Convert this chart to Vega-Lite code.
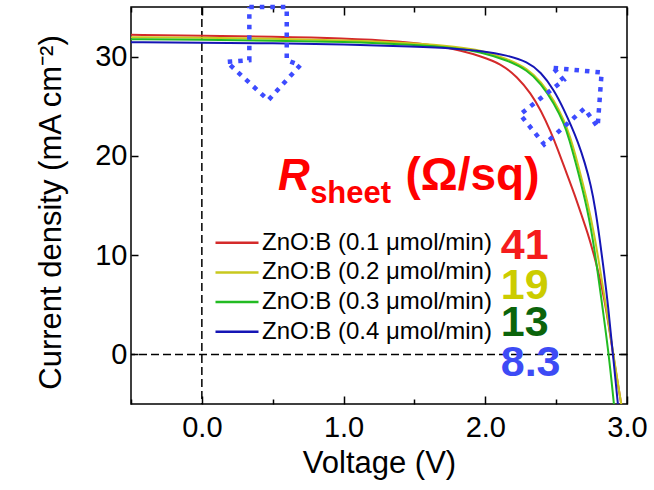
{
  "$schema": "https://vega.github.io/schema/vega-lite/v6.json",
  "autosize": {"type": "none"},
  "width": 496,
  "height": 397,
  "padding": {"left": 131, "top": 7, "right": 27, "bottom": 86},
  "background": "white",
  "config": {
    "view": {"stroke": "#000", "strokeWidth": 1.5},
    "font": "Liberation Sans",
    "axis": {"labelFont": "Liberation Sans", "titleFont": "Liberation Sans", "labelColor": "#000", "titleColor": "#000", "titleFontWeight": "normal", "grid": false, "domain": false, "tickColor": "#000", "tickWidth": 1.5, "labelFlush": false},
    "legend": {"labelFont": "Liberation Sans"}
  },
  "datasets": {
    "curves": [
      {"series": "ZnO:B (0.1 μmol/min)", "V": -0.5, "J": 32.2},
      {"series": "ZnO:B (0.1 μmol/min)", "V": 0, "J": 32.1},
      {"series": "ZnO:B (0.1 μmol/min)", "V": 0.5, "J": 32.0},
      {"series": "ZnO:B (0.1 μmol/min)", "V": 1.0, "J": 31.85},
      {"series": "ZnO:B (0.1 μmol/min)", "V": 1.4, "J": 31.55},
      {"series": "ZnO:B (0.1 μmol/min)", "V": 1.684, "J": 31.05},
      {"series": "ZnO:B (0.1 μmol/min)", "V": 1.826, "J": 30.6},
      {"series": "ZnO:B (0.1 μmol/min)", "V": 1.967, "J": 30.05},
      {"series": "ZnO:B (0.1 μmol/min)", "V": 2.109, "J": 29.3},
      {"series": "ZnO:B (0.1 μmol/min)", "V": 2.227, "J": 27.95},
      {"series": "ZnO:B (0.1 μmol/min)", "V": 2.321, "J": 26.3},
      {"series": "ZnO:B (0.1 μmol/min)", "V": 2.392, "J": 24.6},
      {"series": "ZnO:B (0.1 μmol/min)", "V": 2.463, "J": 22.4},
      {"series": "ZnO:B (0.1 μmol/min)", "V": 2.51, "J": 20.7},
      {"series": "ZnO:B (0.1 μmol/min)", "V": 2.57, "J": 18.4},
      {"series": "ZnO:B (0.1 μmol/min)", "V": 2.628, "J": 16.2},
      {"series": "ZnO:B (0.1 μmol/min)", "V": 2.68, "J": 14.0},
      {"series": "ZnO:B (0.1 μmol/min)", "V": 2.723, "J": 12.2},
      {"series": "ZnO:B (0.1 μmol/min)", "V": 2.758, "J": 10.5},
      {"series": "ZnO:B (0.1 μmol/min)", "V": 2.8, "J": 8.2},
      {"series": "ZnO:B (0.1 μmol/min)", "V": 2.84, "J": 5.6},
      {"series": "ZnO:B (0.1 μmol/min)", "V": 2.87, "J": 3.0},
      {"series": "ZnO:B (0.1 μmol/min)", "V": 2.9, "J": 0.2},
      {"series": "ZnO:B (0.1 μmol/min)", "V": 2.93, "J": -2.5},
      {"series": "ZnO:B (0.1 μmol/min)", "V": 2.965, "J": -5.5},
      {"series": "ZnO:B (0.2 μmol/min)", "V": -0.5, "J": 31.95},
      {"series": "ZnO:B (0.2 μmol/min)", "V": 0, "J": 31.9},
      {"series": "ZnO:B (0.2 μmol/min)", "V": 0.5, "J": 31.8},
      {"series": "ZnO:B (0.2 μmol/min)", "V": 1.0, "J": 31.65},
      {"series": "ZnO:B (0.2 μmol/min)", "V": 1.5, "J": 31.35},
      {"series": "ZnO:B (0.2 μmol/min)", "V": 1.8, "J": 31.0},
      {"series": "ZnO:B (0.2 μmol/min)", "V": 1.967, "J": 30.65},
      {"series": "ZnO:B (0.2 μmol/min)", "V": 2.156, "J": 29.8},
      {"series": "ZnO:B (0.2 μmol/min)", "V": 2.298, "J": 28.8},
      {"series": "ZnO:B (0.2 μmol/min)", "V": 2.392, "J": 27.5},
      {"series": "ZnO:B (0.2 μmol/min)", "V": 2.486, "J": 25.6},
      {"series": "ZnO:B (0.2 μmol/min)", "V": 2.557, "J": 23.55},
      {"series": "ZnO:B (0.2 μmol/min)", "V": 2.6, "J": 21.9},
      {"series": "ZnO:B (0.2 μmol/min)", "V": 2.652, "J": 19.3},
      {"series": "ZnO:B (0.2 μmol/min)", "V": 2.723, "J": 15.3},
      {"series": "ZnO:B (0.2 μmol/min)", "V": 2.769, "J": 12.1},
      {"series": "ZnO:B (0.2 μmol/min)", "V": 2.817, "J": 8.0},
      {"series": "ZnO:B (0.2 μmol/min)", "V": 2.85, "J": 5.0},
      {"series": "ZnO:B (0.2 μmol/min)", "V": 2.878, "J": 2.4},
      {"series": "ZnO:B (0.2 μmol/min)", "V": 2.905, "J": -0.1},
      {"series": "ZnO:B (0.2 μmol/min)", "V": 2.958, "J": -4.9},
      {"series": "ZnO:B (0.2 μmol/min)", "V": 2.965, "J": -5.5},
      {"series": "ZnO:B (0.3 μmol/min)", "V": -0.5, "J": 31.75},
      {"series": "ZnO:B (0.3 μmol/min)", "V": 0, "J": 31.7},
      {"series": "ZnO:B (0.3 μmol/min)", "V": 0.5, "J": 31.6},
      {"series": "ZnO:B (0.3 μmol/min)", "V": 1.0, "J": 31.5},
      {"series": "ZnO:B (0.3 μmol/min)", "V": 1.5, "J": 31.2},
      {"series": "ZnO:B (0.3 μmol/min)", "V": 1.8, "J": 30.85},
      {"series": "ZnO:B (0.3 μmol/min)", "V": 1.967, "J": 30.47},
      {"series": "ZnO:B (0.3 μmol/min)", "V": 2.156, "J": 29.64},
      {"series": "ZnO:B (0.3 μmol/min)", "V": 2.298, "J": 28.63},
      {"series": "ZnO:B (0.3 μmol/min)", "V": 2.392, "J": 27.3},
      {"series": "ZnO:B (0.3 μmol/min)", "V": 2.486, "J": 25.3},
      {"series": "ZnO:B (0.3 μmol/min)", "V": 2.557, "J": 23.2},
      {"series": "ZnO:B (0.3 μmol/min)", "V": 2.59, "J": 21.8},
      {"series": "ZnO:B (0.3 μmol/min)", "V": 2.652, "J": 18.6},
      {"series": "ZnO:B (0.3 μmol/min)", "V": 2.723, "J": 14.5},
      {"series": "ZnO:B (0.3 μmol/min)", "V": 2.769, "J": 10.8},
      {"series": "ZnO:B (0.3 μmol/min)", "V": 2.817, "J": 5.8},
      {"series": "ZnO:B (0.3 μmol/min)", "V": 2.871, "J": 0.1},
      {"series": "ZnO:B (0.3 μmol/min)", "V": 2.907, "J": -4.9},
      {"series": "ZnO:B (0.3 μmol/min)", "V": 2.912, "J": -5.6},
      {"series": "ZnO:B (0.4 μmol/min)", "V": -0.5, "J": 31.45},
      {"series": "ZnO:B (0.4 μmol/min)", "V": 0, "J": 31.4},
      {"series": "ZnO:B (0.4 μmol/min)", "V": 0.5, "J": 31.35},
      {"series": "ZnO:B (0.4 μmol/min)", "V": 1.0, "J": 31.25},
      {"series": "ZnO:B (0.4 μmol/min)", "V": 1.5, "J": 31.0},
      {"series": "ZnO:B (0.4 μmol/min)", "V": 1.8, "J": 30.8},
      {"series": "ZnO:B (0.4 μmol/min)", "V": 1.967, "J": 30.57},
      {"series": "ZnO:B (0.4 μmol/min)", "V": 2.156, "J": 30.14},
      {"series": "ZnO:B (0.4 μmol/min)", "V": 2.298, "J": 29.47},
      {"series": "ZnO:B (0.4 μmol/min)", "V": 2.392, "J": 28.46},
      {"series": "ZnO:B (0.4 μmol/min)", "V": 2.486, "J": 26.62},
      {"series": "ZnO:B (0.4 μmol/min)", "V": 2.557, "J": 24.6},
      {"series": "ZnO:B (0.4 μmol/min)", "V": 2.604, "J": 23.1},
      {"series": "ZnO:B (0.4 μmol/min)", "V": 2.654, "J": 21.4},
      {"series": "ZnO:B (0.4 μmol/min)", "V": 2.703, "J": 19.3},
      {"series": "ZnO:B (0.4 μmol/min)", "V": 2.746, "J": 17.0},
      {"series": "ZnO:B (0.4 μmol/min)", "V": 2.776, "J": 14.7},
      {"series": "ZnO:B (0.4 μmol/min)", "V": 2.807, "J": 11.7},
      {"series": "ZnO:B (0.4 μmol/min)", "V": 2.838, "J": 8.3},
      {"series": "ZnO:B (0.4 μmol/min)", "V": 2.866, "J": 5.0},
      {"series": "ZnO:B (0.4 μmol/min)", "V": 2.9, "J": 0.1},
      {"series": "ZnO:B (0.4 μmol/min)", "V": 2.935, "J": -4.9},
      {"series": "ZnO:B (0.4 μmol/min)", "V": 2.94, "J": -5.6}
    ],
    "arrows": [
      {"arrow": "down", "ord": 0, "V": 0.335, "J": 35.0},
      {"arrow": "down", "ord": 1, "V": 0.599, "J": 35.0},
      {"arrow": "down", "ord": 2, "V": 0.599, "J": 29.64},
      {"arrow": "down", "ord": 3, "V": 0.694, "J": 29.13},
      {"arrow": "down", "ord": 4, "V": 0.469, "J": 25.61},
      {"arrow": "down", "ord": 5, "V": 0.175, "J": 29.47},
      {"arrow": "down", "ord": 6, "V": 0.335, "J": 29.64},
      {"arrow": "down", "ord": 7, "V": 0.335, "J": 35.0},
      {"arrow": "diag", "ord": 0, "V": 2.482, "J": 28.86},
      {"arrow": "diag", "ord": 1, "V": 2.821, "J": 28.4},
      {"arrow": "diag", "ord": 2, "V": 2.793, "J": 22.92},
      {"arrow": "diag", "ord": 3, "V": 2.699, "J": 24.77},
      {"arrow": "diag", "ord": 4, "V": 2.416, "J": 21.15},
      {"arrow": "diag", "ord": 5, "V": 2.246, "J": 24.17},
      {"arrow": "diag", "ord": 6, "V": 2.553, "J": 27.62},
      {"arrow": "diag", "ord": 7, "V": 2.482, "J": 28.86}
    ],
    "numbers": [
      {"label": "41", "V": 2.109, "J": 9.6},
      {"label": "19", "V": 2.109, "J": 5.57},
      {"label": "13", "V": 2.109, "J": 1.84},
      {"label": "8.3", "V": 2.109, "J": -2.19}
    ]
  },
  "resolve": {"axis": {"x": "independent", "y": "independent"}, "scale": {"color": "independent"}},
  "layer": [
    {
      "data": {"values": [{"V": 0}]},
      "mark": {"type": "rule", "color": "#000", "strokeWidth": 1.5, "strokeDash": [8, 4]},
      "encoding": {
        "x": {"field": "V", "type": "quantitative", "scale": {"domain": [-0.5, 3], "nice": false, "zero": false}, "axis": null}
      }
    },
    {
      "data": {"values": [{"J": 0}]},
      "mark": {"type": "rule", "color": "#000", "strokeWidth": 1.5, "strokeDash": [8, 4]},
      "encoding": {
        "y": {"field": "J", "type": "quantitative", "scale": {"domain": [-5, 35], "nice": false, "zero": false}, "axis": null}
      }
    },
    {
      "data": {"name": "curves"},
      "mark": {"type": "line", "strokeWidth": 2, "clip": true, "interpolate": "basis"},
      "encoding": {
        "x": {"field": "V", "type": "quantitative", "scale": {"domain": [-0.5, 3], "nice": false, "zero": false},
          "axis": {"orient": "bottom", "values": [-0.5, 0, 0.5, 1, 1.5, 2, 2.5, 3],
            "labelExpr": "datum.value % 1 === 0 ? format(datum.value, '.1f') : ''",
            "tickSize": {"condition": {"test": "datum.value % 1 === 0", "value": -8}, "value": -5},
            "labelPadding": 17, "labelFontSize": 29, "title": "Voltage (V)", "titleFontSize": 31, "titleBaseline": "alphabetic", "titleY": 68}},
        "y": {"field": "J", "type": "quantitative", "scale": {"domain": [-5, 35], "nice": false, "zero": false},
          "axis": {"orient": "left", "values": [0, 10, 20, 30], "tickSize": -7, "labelPadding": 11, "labelFontSize": 29,
            "title": "Current density (mA cm⁻²)", "titleFontSize": 31, "titleBaseline": "alphabetic", "titleX": -71, "titleY": 205, "titleAngle": -90}},
        "color": {"field": "series", "type": "nominal",
          "scale": {"domain": ["ZnO:B (0.1 μmol/min)", "ZnO:B (0.2 μmol/min)", "ZnO:B (0.3 μmol/min)", "ZnO:B (0.4 μmol/min)"], "range": ["#d42a2a", "#c8c81e", "#22bb22", "#1515b5"]},
          "legend": {"orient": "none", "legendX": 83, "legendY": 222.7, "title": null, "symbolType": "stroke", "symbolSize": 1849, "symbolStrokeWidth": 2.5, "labelFontSize": 24, "labelColor": "#000", "labelOffset": 2, "clipHeight": 26, "rowPadding": 3.7, "padding": 0, "labelLimit": 400}}
      }
    },
    {
      "data": {"name": "arrows"},
      "mark": {"type": "line", "color": "#3d4bff", "strokeWidth": 4.5, "strokeDash": [4.5, 6], "strokeCap": "butt"},
      "encoding": {
        "x": {"field": "V", "type": "quantitative", "scale": {"domain": [-0.5, 3], "nice": false, "zero": false},
          "axis": {"orient": "top", "values": [-0.5, 0, 0.5, 1, 1.5, 2, 2.5, 3], "labels": false, "title": null,
            "tickSize": {"condition": {"test": "datum.value % 1 === 0", "value": -8}, "value": -5}}},
        "y": {"field": "J", "type": "quantitative", "scale": {"domain": [-5, 35], "nice": false, "zero": false},
          "axis": {"orient": "right", "values": [0, 10, 20, 30], "labels": false, "title": null, "tickSize": -7}},
        "detail": {"field": "arrow"},
        "order": {"field": "ord", "type": "quantitative"}
      }
    },
    {
      "data": {"name": "numbers"},
      "mark": {"type": "text", "align": "left", "baseline": "alphabetic", "font": "Liberation Sans", "fontWeight": "bold", "fontSize": 43},
      "encoding": {
        "x": {"field": "V", "type": "quantitative", "scale": {"domain": [-0.5, 3], "nice": false, "zero": false}, "axis": null},
        "y": {"field": "J", "type": "quantitative", "scale": {"domain": [-5, 35], "nice": false, "zero": false}, "axis": null},
        "text": {"field": "label"},
        "color": {"field": "label", "type": "nominal", "scale": {"domain": ["41", "19", "13", "8.3"], "range": ["#f51c1c", "#cccc00", "#0b640b", "#3d4bf5"]}, "legend": null}
      }
    },
    {
      "data": {"values": [{"t": "R", "V": 0.538, "J": 16.55}]},
      "mark": {"type": "text", "align": "left", "baseline": "alphabetic", "font": "Liberation Sans", "fontWeight": "bold", "fontStyle": "italic", "fontSize": 44, "color": "#ff0000"},
      "encoding": {
        "x": {"field": "V", "type": "quantitative", "scale": {"domain": [-0.5, 3], "nice": false, "zero": false}, "axis": null},
        "y": {"field": "J", "type": "quantitative", "scale": {"domain": [-5, 35], "nice": false, "zero": false}, "axis": null},
        "text": {"field": "t"}
      }
    },
    {
      "data": {"values": [{"t": "sheet", "V": 0.764, "J": 15.24}]},
      "mark": {"type": "text", "align": "left", "baseline": "alphabetic", "font": "Liberation Sans", "fontWeight": "bold", "fontSize": 31, "color": "#ff0000"},
      "encoding": {
        "x": {"field": "V", "type": "quantitative", "scale": {"domain": [-0.5, 3], "nice": false, "zero": false}, "axis": null},
        "y": {"field": "J", "type": "quantitative", "scale": {"domain": [-5, 35], "nice": false, "zero": false}, "axis": null},
        "text": {"field": "t"}
      }
    },
    {
      "data": {"values": [{"t": "(Ω/sq)", "V": 1.437, "J": 16.55}]},
      "mark": {"type": "text", "align": "left", "baseline": "alphabetic", "font": "Liberation Sans", "fontWeight": "bold", "fontSize": 46, "color": "#ff0000"},
      "encoding": {
        "x": {"field": "V", "type": "quantitative", "scale": {"domain": [-0.5, 3], "nice": false, "zero": false}, "axis": null},
        "y": {"field": "J", "type": "quantitative", "scale": {"domain": [-5, 35], "nice": false, "zero": false}, "axis": null},
        "text": {"field": "t"}
      }
    }
  ]
}
